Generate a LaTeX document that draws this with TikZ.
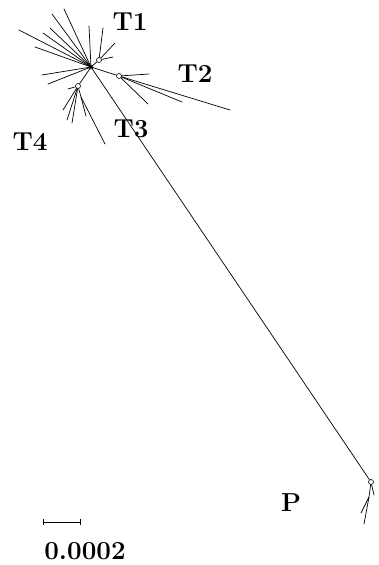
\documentclass[tikz,border=0pt]{standalone}
\usepackage{tikz}

\tikzset{
  branch/.style={line width=0.7pt, line cap=round},
  inode/.style={draw, circle, inner sep=0pt, minimum size=5pt, line width=0.6pt},
  taxon/.style={font=\fontsize{26}{30}\selectfont\bfseries, inner sep=0pt}
}

\begin{document}
\begin{tikzpicture}[x=1pt, y=-1pt, line join=round]

  % Frame of the page
  \useasboundingbox (0,0) rectangle (378,565);

  % Internal nodes
  \coordinate (H) at (91,67);
  \node[inode] (n1) at (99,60) {};
  \node[inode] (n2) at (119,76) {};
  \node[inode] (n4) at (78,86) {};
  \node[inode] (nP) at (371,482) {};
  \node[inode, minimum size=4pt] (h) at (H) {};

  % Long branch towards P
  \draw[branch] (H) -- (nP);

  % Leaves straight from the hub
  \foreach \x/\y [count=\i] in {19/30, 35/47, 43/33, 50/28, 52/14, 64/9,
                                89/26, 42/75, 48/84} {
    \coordinate (a\i) at (\x,\y);
    \draw[branch] (H) -- (a\i);
  }

  % Group T1
  \draw[branch] (H) -- (n1);
  \foreach \x/\y [count=\i] in {103/28, 115/43, 113/57} {
    \coordinate (b\i) at (\x,\y);
    \draw[branch] (n1) -- (b\i);
  }

  % Group T2
  \draw[branch] (H) -- (n2);
  \foreach \x/\y [count=\i] in {149/74, 148/104, 182/102, 230/110} {
    \coordinate (c\i) at (\x,\y);
    \draw[branch] (n2) -- (c\i);
  }

  % Group T4
  \draw[branch] (H) -- (n4);
  \foreach \x/\y [count=\i] in {68/89, 63/110, 67/120, 72/123} {
    \coordinate (d\i) at (\x,\y);
    \draw[branch] (n4) -- (d\i);
  }
  \coordinate (d5) at (81,97);
  \coordinate (d6) at (105,144);
  \coordinate (d7) at (86,116);
  \draw[branch] (n4) -- (d5) -- (d6);
  \draw[branch] (d5) -- (d7);

  % Group P
  \coordinate (p0) at (369,497);
  \coordinate (p1) at (361,513);
  \coordinate (p2) at (364,524);
  \coordinate (p3) at (374,495);
  \draw[branch] (nP) -- (p0) -- (p2);
  \draw[branch] (p0) -- (p1);
  \draw[branch] (nP) -- (p3);

  % Labels
  \node[taxon] (t1) at (130,22) {T1};
  \node[taxon] (t2) at (195,74) {T2};
  \node[taxon] (t3) at (131,129) {T3};
  \node[taxon] (t4) at (30,142) {T4};
  \node[taxon] (tp) at (291,503) {P};

  % Scale bar
  \coordinate (s0) at (43,522);
  \coordinate (s1) at (81,522);
  \draw[line width=0.6pt, |-|] (s0) -- (s1);
  \node[taxon] (sc) at (85,551) {0.0002};

\end{tikzpicture}
\end{document}
